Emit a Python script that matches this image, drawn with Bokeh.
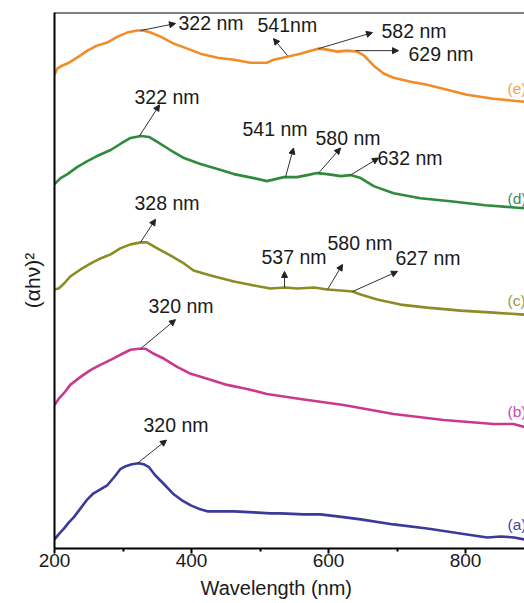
from bokeh.plotting import figure
from bokeh.models import (Range1d, FixedTicker, Span, Label, Arrow, NormalHead, Title)
from bokeh.embed import file_html
from bokeh.resources import INLINE

# ---- data (wavelength in nm, (alpha h nu)^2 in arbitrary units, curves offset) ----
wl_e = [200, 204, 211, 221, 233, 248, 262, 277, 292, 306, 321, 330, 340, 355, 374, 394, 413,
        438, 462, 486, 510, 520, 540, 559, 574, 586, 598, 613, 627, 642, 652, 666, 681,
        695, 720, 744, 773, 802, 841, 886]
y_e = [472, 478, 481, 484, 489, 496, 501, 504, 510, 514, 516, 516, 514, 510, 503, 498, 493,
       489, 487, 484, 484, 487, 490, 493, 496, 498, 497, 495, 496, 495, 491, 481, 473,
       469, 465, 462, 457, 452, 448, 445]

wl_d = [200, 209, 219, 233, 248, 262, 282, 296, 311, 326, 338, 350, 369, 389, 413, 438, 462,
        491, 510, 535, 554, 569, 583, 598, 618, 632, 647, 666, 695, 734, 778, 829, 886]
y_d = [363, 369, 373, 380, 386, 391, 397, 403, 409, 411, 410, 405, 397, 389, 383, 378, 373,
       369, 366, 370, 370, 372, 374, 373, 371, 372, 369, 361, 354, 349, 346, 342, 339]

wl_c = [200, 206, 214, 223, 238, 253, 267, 282, 296, 311, 326, 335, 350, 369, 389, 403, 428,
        462, 491, 515, 537, 554, 579, 598, 618, 635, 647, 671, 705, 744, 793, 841, 886]
y_c = [258, 259, 264, 271, 278, 284, 289, 293, 299, 303, 305, 305, 299, 292, 284, 277, 272,
       266, 262, 259, 260, 259, 260, 258, 257, 256, 253, 248, 243, 240, 237, 235, 233]

wl_b = [200, 206, 214, 223, 238, 253, 267, 282, 296, 311, 323, 333, 345, 360, 379, 399, 423,
        452, 481, 510, 559, 622, 695, 768, 841, 870, 886]
y_b = [143, 149, 155, 163, 171, 178, 183, 188, 193, 198, 199, 199, 194, 189, 181, 174, 169,
       163, 159, 154, 149, 143, 134, 128, 124, 124, 121]

wl_a = [200, 206, 214, 221, 228, 238, 248, 257, 267, 277, 287, 296, 304, 313, 323, 330, 338,
        347, 360, 374, 386, 399, 413, 423, 442, 462, 491, 515, 530, 564, 588, 613, 647,
        695, 744, 783, 802, 832, 851, 871, 886]
y_a = [9, 14, 20, 26, 31, 40, 49, 55, 59, 63, 71, 79, 82, 84, 85, 84, 81,
       73, 64, 54, 48, 43, 39, 37, 37, 37, 36, 35, 35, 34, 34, 32, 29,
       24, 20, 16, 14, 11, 12, 11, 9]

series_names = ["(a)", "(b)", "(c)", "(d)", "(e)"]
x_ticks = [200, 400, 600, 800]
x_minor = [300, 500, 700]
x_title = "Wavelength (nm)"
y_title = "(αhν)²"

# annotation texts
ann_text = ["322 nm", "541nm", "582 nm", "629 nm",
            "322 nm", "541 nm", "580 nm", "632 nm",
            "328 nm", "537 nm", "580 nm", "627 nm",
            "320 nm", "320 nm"]

# ---- layout helpers (pixel positions -> data) ----
def px_x(px):
    return 200 + (px - 54) / 0.685

def px_y(py):
    return 546 - py

# text left/center, arrow tail, arrow head (pixel coordinates)
ann_pos = [(178, 22, 140, 30, 175, 23), (257, 24, 287, 55, 273, 38),
           (381, 30, 318, 48, 372, 32), (408, 53, 355, 50, 398, 50),
           (134, 96, 139, 135, 159, 104), (242, 128, 285, 176, 293, 147),
           (315, 137, 318, 172, 340, 147), (377, 157, 350, 174, 378, 157),
           (134, 202, 140, 241, 155, 218), (261, 256, 284, 286, 284, 270),
           (327, 242, 327, 288, 342, 263), (395, 257, 352, 290, 397, 270),
           (148, 304, 140, 347, 175, 318), (143, 423, 137, 461, 166, 438)]

colors = ["#3b3a98", "#c93a8e", "#8c8c26", "#2f8a3c", "#f28c28"]
label_colors = ["#4a40a8", "#c848b0", "#9a9a40", "#3a8a62", "#f5a04a"]
label_py = [522, 410, 299, 197, 88]

FONT = "Liberation Sans"

p = figure(width=524, height=603, output_backend="svg", toolbar_location=None,
           x_range=Range1d(200, px_x(524)), y_range=Range1d(0, 534),
           min_border_left=54, min_border_right=0, min_border_top=12, min_border_bottom=0)
p.outline_line_color = None
p.xgrid.visible = False
p.ygrid.visible = False
p.background_fill_color = "white"
p.border_fill_color = "white"

xs = [wl_a, wl_b, wl_c, wl_d, wl_e]
ys = [y_a, y_b, y_c, y_d, y_e]
for x, y, c in zip(xs, ys, colors):
    p.line(x, y, line_color=c, line_width=2.6, line_join="round")

# series labels at the right edge
for name, c, py in zip(series_names, label_colors, label_py):
    p.add_layout(Label(x=px_x(507), y=px_y(py), text=name, text_color=c,
                       text_font=FONT, text_font_size="15.5px",
                       text_baseline="middle", text_align="left"))

# annotations
for t, (tx, ty, ax0, ay0, ax1, ay1) in zip(ann_text, ann_pos):
    p.add_layout(Arrow(x_start=px_x(ax0), y_start=px_y(ay0), x_end=px_x(ax1), y_end=px_y(ay1),
                       line_color="#333333", line_width=1,
                       end=NormalHead(size=6, fill_color="#222222", line_color="#222222")))
    p.add_layout(Label(x=px_x(tx), y=px_y(ty), text=t, text_color="#1a1a1a",
                       text_font=FONT, text_font_size="19.5px",
                       text_baseline="middle", text_align="left"))

# top border
p.add_layout(Span(location=534, dimension="width", line_color="black", line_width=2))

# x axis
xa = p.xaxis[0]
xa.ticker = FixedTicker(ticks=x_ticks, minor_ticks=x_minor)
xa.axis_line_width = 2
xa.axis_line_color = "black"
xa.major_tick_line_width = 2
xa.major_tick_in = 0
xa.major_tick_out = 5
xa.minor_tick_line_width = 2
xa.minor_tick_in = 0
xa.minor_tick_out = 3
xa.major_label_text_font = FONT
xa.major_label_text_font_size = "19px"
xa.major_label_text_color = "#1a1a1a"
xa.major_label_standoff = 0

# x-axis title as a bottom title, placed slightly left of centre as in the original
p.add_layout(Title(text=x_title, align="left", offset=146, standoff=10,
                   text_font=FONT, text_font_size="20px", text_font_style="normal",
                   text_color="#1a1a1a"), "below")

# y axis
ya = p.yaxis[0]
ya.ticker = FixedTicker(ticks=[])
ya.axis_line_width = 2
ya.axis_line_color = "black"
ya.major_tick_line_color = None
ya.minor_tick_line_color = None
ya.major_label_text_font_size = "0px"
ya.axis_label = y_title
ya.axis_label_text_font = FONT
ya.axis_label_text_font_size = "21px"
ya.axis_label_text_font_style = "normal"
ya.axis_label_text_color = "#1a1a1a"
ya.axis_label_standoff = 11

open("out.html", "w").write(file_html(p, INLINE))
